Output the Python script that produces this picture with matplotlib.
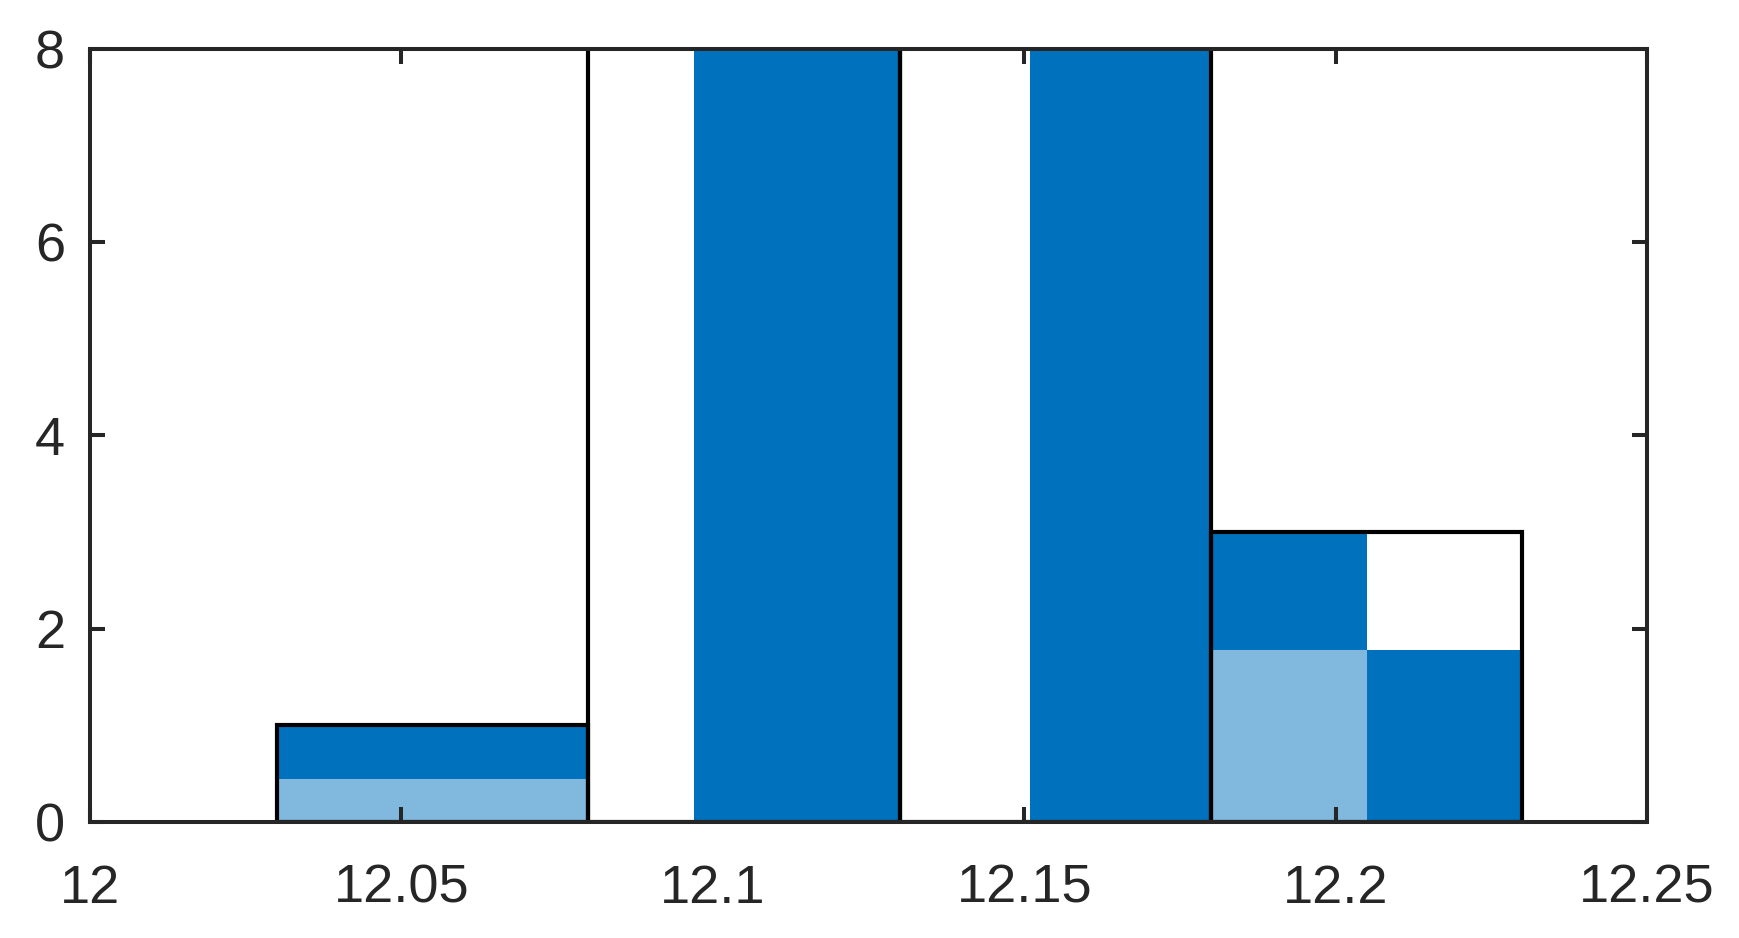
import matplotlib.pyplot as plt

plt.rcParams['font.family'] = ['Liberation Sans', 'DejaVu Sans']

# histogram outline (tall bins run off the top of the axes)
bin_edges = [12.03, 12.08, 12.13, 12.18, 12.23]
bin_counts = [1, 10, 10, 3]

# solid blue blocks
solid_left = [12.03, 12.097, 12.151, 12.18, 12.205]
solid_right = [12.08, 12.13, 12.18, 12.205, 12.23]
solid_bottom = [0.44, 0, 0, 1.78, 0]
solid_top = [1, 10, 10, 3, 1.78]

# light dotted blocks
dot_left = [12.03, 12.18]
dot_right = [12.08, 12.205]
dot_top = [0.44, 1.78]

xticks = [12, 12.05, 12.1, 12.15, 12.2, 12.25]
xticklabels = ['12', '12.05', '12.1', '12.15', '12.2', '12.25']
yticks = [0, 2, 4, 6, 8]

blue = '#0072BD'
light = '#80B8DE'
axcol = '#262626'

fig = plt.figure(figsize=(17.39, 9.38), dpi=100)
ax = fig.add_axes([0.0518, 0.1237, 0.8953, 0.8243])

w = [r - l for l, r in zip(dot_left, dot_right)]
ax.bar(dot_left, dot_top, width=w, align='edge', color=light,
       edgecolor='none', linewidth=0, zorder=1)

w = [r - l for l, r in zip(solid_left, solid_right)]
h = [t - b for b, t in zip(solid_bottom, solid_top)]
ax.bar(solid_left, h, bottom=solid_bottom, width=w, align='edge',
       color=blue, edgecolor='none', linewidth=0, zorder=2)

bw = [bin_edges[i + 1] - bin_edges[i] for i in range(len(bin_counts))]
ax.bar(bin_edges[:-1], bin_counts, width=bw, align='edge', fill=False,
       edgecolor='black', linewidth=3, zorder=3)

ax.set_xlim(12, 12.25)
ax.set_ylim(0, 8)
ax.set_xticks(xticks)
ax.set_xticklabels(xticklabels)
ax.set_yticks(yticks)

for s in ax.spines.values():
    s.set_linewidth(2.9)
    s.set_color(axcol)
    s.set_zorder(5)
ax.tick_params(direction='in', length=11, width=2.9, color=axcol,
               labelcolor=axcol, labelsize=39, top=True, right=True)
ax.tick_params(axis='x', pad=30)
ax.tick_params(axis='y', pad=18)

fig.savefig('out.png', dpi=100)
